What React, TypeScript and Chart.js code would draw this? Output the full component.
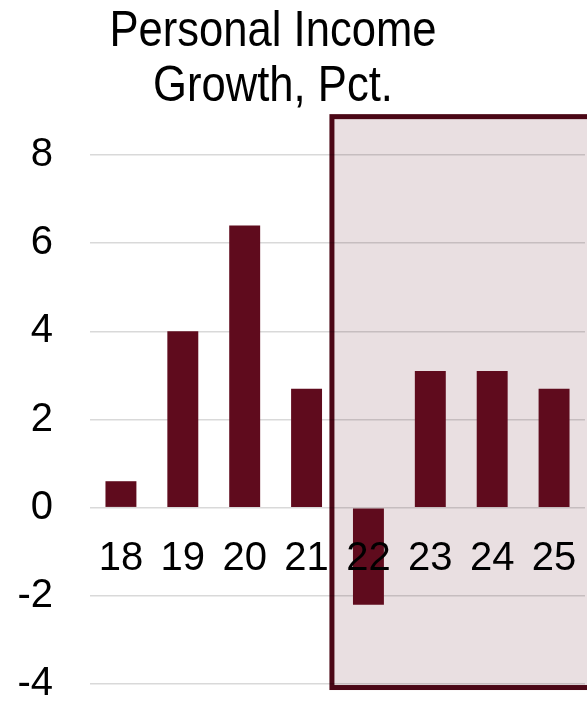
import React, { useEffect, useRef } from "react";
import { Chart, registerables } from "chart.js";

Chart.register(...registerables);

const categories = ["18", "19", "20", "21", "22", "23", "24", "25"];
const growthValues = [0.6, 4.0, 6.4, 2.7, -2.2, 3.1, 3.1, 2.7];
const yTicks = [-4, -2, 0, 2, 4, 6, 8];
const titleLines = ["Personal Income", "Growth, Pct."];
// highlighted forecast region (in axis units)
const highlightX = [3.41, 9];
const highlightY = [-4.08, 8.87];

const FONT = "'Liberation Sans', Arial, sans-serif";
const BAR = "#5f0b1d";
const BOX_BORDER = "#4b0716";
const BOX_FILL = "#e9dfe1";

const highlightPlugin = {
  id: "highlightBox",
  beforeDraw(chart: any) {
    const { ctx, scales } = chart;
    const x = scales.x;
    const y = scales.y;
    const left = x.getPixelForValue(highlightX[0]);
    const right = x.getPixelForValue(highlightX[1]);
    const top = y.getPixelForValue(highlightY[1]);
    const bottom = y.getPixelForValue(highlightY[0]);
    ctx.save();
    ctx.fillStyle = BOX_FILL;
    ctx.fillRect(left, top, right - left, bottom - top);
    ctx.strokeStyle = BOX_BORDER;
    ctx.lineWidth = 5;
    ctx.strokeRect(left, top, right - left, bottom - top);
    ctx.restore();
  },
};

export default function App() {
  const canvasRef = useRef<HTMLCanvasElement | null>(null);

  useEffect(() => {
    document.body.style.margin = "0";
    const canvas = canvasRef.current;
    if (!canvas) return;
    const chart = new Chart(canvas, {
      type: "bar",
      data: {
        labels: categories,
        datasets: [
          {
            data: growthValues,
            backgroundColor: BAR,
            borderWidth: 0,
            barPercentage: 0.5,
            categoryPercentage: 1.0,
          },
        ],
      },
      options: {
        animation: false,
        responsive: true,
        maintainAspectRatio: false,
        layout: { padding: { top: 155, bottom: 22, left: 0, right: 2 } },
        plugins: {
          legend: { display: false },
          tooltip: { enabled: false },
          title: { display: false },
        },
        scales: {
          x: {
            position: { y: 0 } as any,
            afterFit(scale: any) {
              scale.height = 0;
              scale.paddingLeft = 0;
              scale.paddingRight = 0;
              scale.paddingTop = 0;
              scale.paddingBottom = 0;
            },
            grid: { display: false },
            border: { display: false },
            ticks: {
              z: 1,
              color: "#000",
              font: { family: FONT, size: 40 },
              padding: 19,
              maxRotation: 0,
              autoSkip: false,
            } as any,
          },
          y: {
            min: -4,
            max: 8,
            afterFit(scale: any) {
              scale.width = 90;
              scale.paddingTop = 0;
              scale.paddingBottom = 0;
            },
            afterBuildTicks(scale: any) {
              scale.ticks = yTicks.map((v) => ({ value: v }));
            },
            grid: {
              color: "rgba(0,0,0,0.15)",
              lineWidth: 1.5,
              drawTicks: false,
            },
            border: { display: false },
            ticks: {
              color: "#000",
              font: { family: FONT, size: 40, lineHeight: 1 },
              padding: 37,
            },
          },
        },
      },
      plugins: [highlightPlugin],
    });
    return () => chart.destroy();
  }, []);

  return (
    <div style={{ position: "absolute", left: 0, top: 0, width: 587, height: 706 }}>
      <canvas ref={canvasRef} />
      <div
        style={{
          position: "absolute",
          top: 2,
          left: 273 - 250,
          width: 500,
          textAlign: "center",
          fontFamily: FONT,
          fontSize: 43.6,
          lineHeight: "49px",
          color: "#000",
          transform: "scaleY(1.13)",
          transformOrigin: "top center",
        }}
      >
        {titleLines.map((t) => (
          <div key={t}>{t}</div>
        ))}
      </div>
    </div>
  );
}
